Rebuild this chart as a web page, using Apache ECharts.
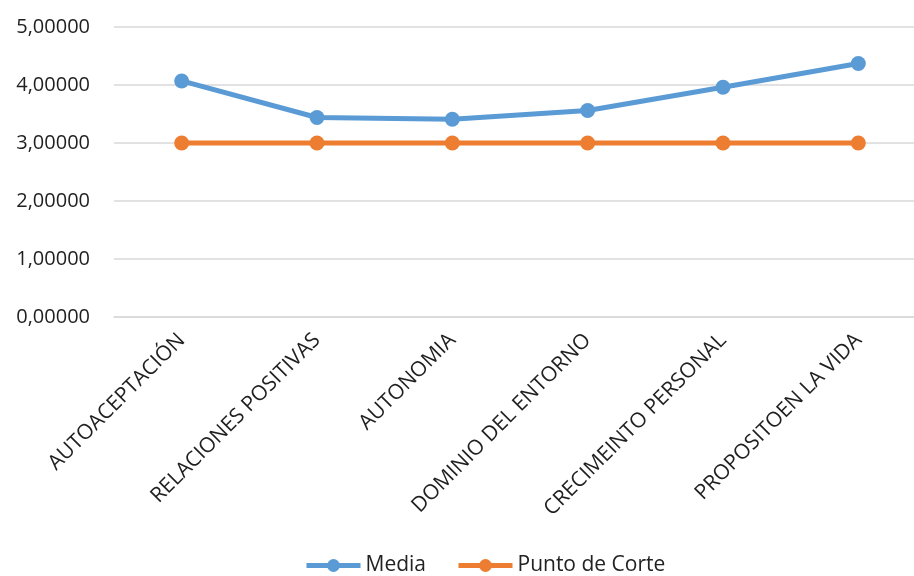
<!DOCTYPE html>
<html><head><meta charset="utf-8">
<script src="https://cdn.jsdelivr.net/npm/echarts@6/dist/echarts.min.js"></script>
<style>html,body{margin:0;padding:0;background:#fff}#c{width:914px;height:576px}</style>
</head><body><div id="c"></div>
<script>
var categories = ["AUTOACEPTACIÓN","RELACIONES POSITIVAS","AUTONOMIA","DOMINIO DEL ENTORNO","CRECIMEINTO PERSONAL","PROPOSITOEN LA VIDA"];
var media = [4.07, 3.44, 3.41, 3.56, 3.96, 4.37];
var puntoCorte = [3, 3, 3, 3, 3, 3];
var yTicks = {min: 0, max: 5, interval: 1};
var font = "'Open Sans', 'Liberation Sans', sans-serif";
var chart = echarts.init(document.getElementById('c'));
chart.setOption({
  animation: false,
  textStyle: {fontFamily: font},
  grid: {left: 114, right: -12, top: 27, bottom: 259, containLabel: false, outerBoundsMode: 'none'},
  legend: {
    bottom: 0, left: 304, padding: 0, itemWidth: 54, itemHeight: 16, itemGap: 30,
    textStyle: {fontSize: 21, color: '#222', fontFamily: font},
    lineStyle: {width: 5},
    data: ['Media', 'Punto de Corte']
  },
  xAxis: {
    type: 'category', data: categories, boundaryGap: true,
    axisLine: {show: true, lineStyle: {color: '#d9d9d9', width: 1.5}},
    axisTick: {show: false},
    axisLabel: {rotate: 45, margin: 20, fontSize: 21, color: '#1f1f1f', interval: 0, fontFamily: font}
  },
  yAxis: {
    type: 'value', min: yTicks.min, max: yTicks.max, interval: yTicks.interval,
    axisLine: {show: false}, axisTick: {show: false},
    splitLine: {lineStyle: {color: '#d9d9d9', width: 1.5}},
    axisLabel: {margin: 24, fontSize: 20, color: '#1f1f1f', fontFamily: font,
      formatter: function (v) { return v.toFixed(5).replace('.', ','); }}
  },
  series: [
    {name: 'Media', type: 'line', data: media, symbol: 'circle', symbolSize: 15,
     lineStyle: {color: '#5B9BD5', width: 5}, itemStyle: {color: '#5B9BD5'}},
    {name: 'Punto de Corte', type: 'line', data: puntoCorte, symbol: 'circle', symbolSize: 15,
     lineStyle: {color: '#ED7D31', width: 5}, itemStyle: {color: '#ED7D31'}}
  ]
});
</script></body></html>
